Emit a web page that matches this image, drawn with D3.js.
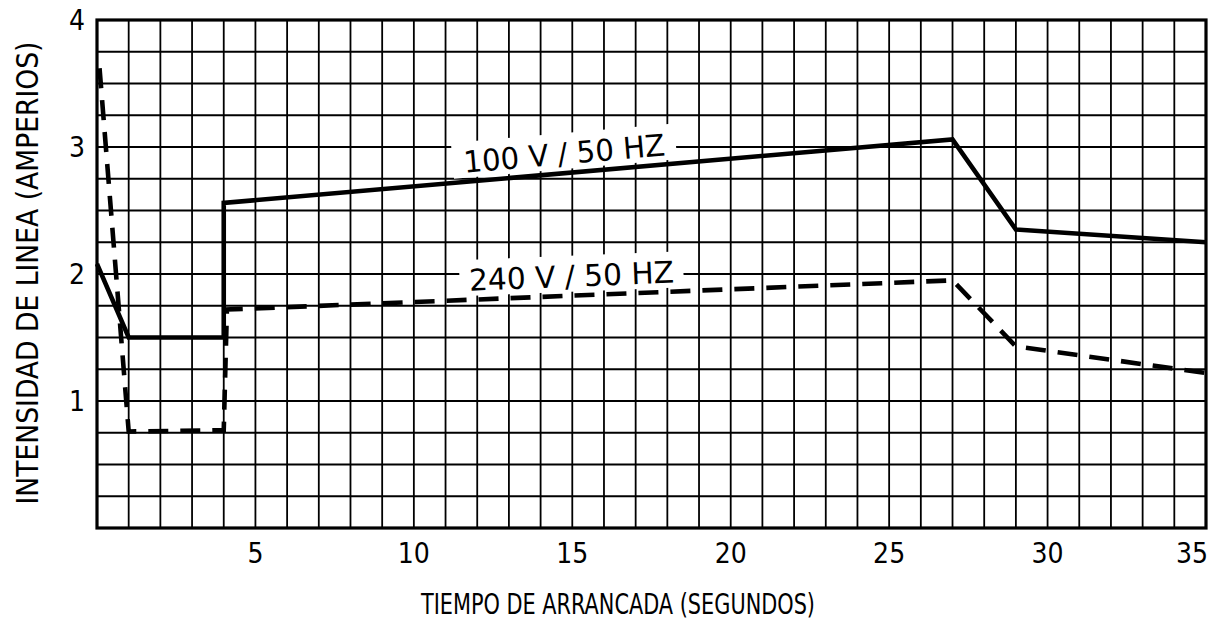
<!DOCTYPE html>
<html><head><meta charset="utf-8">
<script src="https://cdn.jsdelivr.net/npm/d3@7"></script>
<style>
body{margin:0;background:#fff}
text{font-family:"Liberation Sans Narrow","DejaVu Sans Condensed","Liberation Sans",sans-serif;fill:#000}
</style>
</head><body><svg id="c" width="1215" height="637"></svg>
<script>
// ---- data ----
const timeSeconds100 = [0, 1, 4, 4, 27, 29, 35];
const current100     = [2.08, 1.5, 1.5, 2.56, 3.06, 2.35, 2.25];
const timeSeconds240 = [0.08, 1, 4, 4.1, 27, 29, 35];
const current240     = [3.62, 0.76, 0.77, 1.72, 1.95, 1.43, 1.22];
const xTicks = [5, 10, 15, 20, 25, 30, 35];
const yTicks = [1, 2, 3, 4];
const seriesLabels = ["100 V / 50 HZ", "240 V / 50 HZ"];
const labelAtSeconds = [14.8, 15.0];
const xTitle = "TIEMPO DE ARRANCADA (SEGUNDOS)";
const yTitle = "INTENSIDAD DE LINEA (AMPERIOS)";

// ---- layout ----
const svg = d3.select("#c");
const x = d3.scaleLinear().domain([0, 35]).range([97, 1206]);
const y = d3.scaleLinear().domain([0, 4]).range([528, 20]);

const gGrid = svg.append("g");
gGrid.selectAll("line.v").data(d3.range(1, 35)).join("line")
  .attr("x1", d => x(d)).attr("x2", d => x(d))
  .attr("y1", y(0)).attr("y2", y(4))
  .attr("stroke", "#000").attr("stroke-width", 1.8);
gGrid.selectAll("line.h").data(d3.range(1, 16).map(i => i * 0.25)).join("line")
  .attr("x1", x(0)).attr("x2", x(35))
  .attr("y1", d => y(d)).attr("y2", d => y(d))
  .attr("stroke", "#000").attr("stroke-width", 1.8);

const series = [
  {t: timeSeconds100, v: current100, dash: null},
  {t: timeSeconds240, v: current240, dash: "20,12"}
];

const labelPos = series.map((s, i) => {
  const px = x(labelAtSeconds[i]);
  let k = 0;
  for (let j = 0; j < s.t.length - 1; j++) if (labelAtSeconds[i] >= s.t[j] && labelAtSeconds[i] <= s.t[j+1]) k = j;
  const x0 = x(s.t[k]), x1 = x(s.t[k+1]), y0 = y(s.v[k]), y1 = y(s.v[k+1]);
  const py = y0 + (px - x0) / (x1 - x0) * (y1 - y0);
  const ang = Math.atan2(y1 - y0, x1 - x0) * 180 / Math.PI;
  return `translate(${px},${py}) rotate(${ang}) translate(0,-20)`;
});

labelPos.forEach(tr => {
  svg.append("rect").attr("transform", tr)
    .attr("x", -112).attr("y", -20).attr("width", 224).attr("height", 36).attr("fill", "#fff");
});

svg.append("rect").attr("x", x(0)).attr("y", y(4)).attr("width", x(35) - x(0)).attr("height", y(0) - y(4))
  .attr("fill", "none").attr("stroke", "#000").attr("stroke-width", 3.2);

const line = d3.line().x(d => x(d[0])).y(d => y(d[1]));
series.forEach(s => {
  svg.append("path").datum(s.t.map((t, j) => [t, s.v[j]]))
    .attr("d", line).attr("fill", "none").attr("stroke", "#000")
    .attr("stroke-width", 4.6).attr("stroke-linejoin", "miter")
    .attr("stroke-dasharray", s.dash);
});

labelPos.forEach((tr, i) => {
  svg.append("text").attr("transform", tr).attr("text-anchor", "middle").attr("y", 11)
    .attr("font-size", 30).attr("textLength", i === 0 ? 202 : 205).attr("lengthAdjust", "spacingAndGlyphs")
    .text(seriesLabels[i]);
});

svg.append("g").selectAll("text").data(xTicks).join("text")
  .attr("x", d => d === 35 ? x(d) + 2 : x(d)).attr("y", 563)
  .attr("text-anchor", d => d === 35 ? "end" : "middle")
  .attr("font-size", 28).text(d => d);
svg.append("g").selectAll("text").data(yTicks).join("text")
  .attr("x", 77).attr("y", d => y(d) + 10).attr("text-anchor", "middle")
  .attr("font-size", 28).text(d => d);

svg.append("text").attr("x", 618).attr("y", 614).attr("text-anchor", "middle")
  .attr("font-size", 28).attr("textLength", 394).attr("lengthAdjust", "spacingAndGlyphs").text(xTitle);
svg.append("text").attr("transform", "translate(38,273) rotate(-90)").attr("text-anchor", "middle")
  .attr("font-size", 30).attr("textLength", 463).attr("lengthAdjust", "spacingAndGlyphs").text(yTitle);
</script>
</body></html>
